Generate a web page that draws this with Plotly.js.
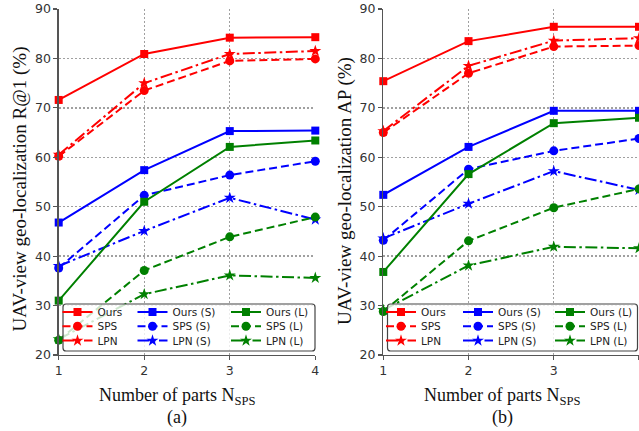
<!DOCTYPE html>
<html>
<head>
<meta charset="utf-8">
<script src="https://cdn.plot.ly/plotly-3.0.1.min.js"></script>
<style>
  html, body { margin: 0; padding: 0; background: #fff; }
  #chart { width: 639px; height: 431px; }
</style>
</head>
<body>
<div id="chart"></div>
<script>
// ---------------- data ----------------
const parts = [1, 2, 3, 4];
const xTickLabels = ['1', '2', '3', '4'];
const seriesNames = ['Ours', 'SPS', 'LPN', 'Ours (S)', 'SPS (S)', 'LPN (S)', 'Ours (L)', 'SPS (L)', 'LPN (L)'];

// (a) UAV-view geo-localization R@1 (%)
const r1_ours  = [71.6, 80.9, 84.2, 84.3];
const r1_sps   = [60.2, 73.5, 79.5, 79.9];
const r1_lpn   = [60.5, 75.0, 80.9, 81.5];
const r1_oursS = [46.8, 57.4, 65.3, 65.4];
const r1_spsS  = [37.6, 52.3, 56.4, 59.2];
const r1_lpnS  = [38.0, 45.1, 51.8, 47.4];
const r1_oursL = [31.0, 51.0, 62.1, 63.4];
const r1_spsL  = [23.0, 37.1, 43.9, 47.9];
const r1_lpnL  = [23.2, 32.3, 36.1, 35.6];

// (b) UAV-view geo-localization AP (%)
const ap_ours  = [75.4, 83.5, 86.4, 86.4];
const ap_sps   = [65.0, 77.0, 82.4, 82.6];
const ap_lpn   = [65.3, 78.5, 83.6, 84.1];
const ap_oursS = [52.4, 62.1, 69.4, 69.4];
const ap_spsS  = [43.2, 57.6, 61.3, 63.8];
const ap_lpnS  = [43.6, 50.6, 57.2, 53.4];
const ap_oursL = [36.8, 56.6, 66.9, 68.0];
const ap_spsL  = [28.8, 43.1, 49.8, 53.6];
const ap_lpnL  = [29.1, 38.1, 41.9, 41.6];

// ---------------- styles ----------------
const W = 639, H = 431;
const colors  = ['#ff0000', '#ff0000', '#ff0000', '#0000ff', '#0000ff', '#0000ff', '#008000', '#008000', '#008000'];
const dashes  = ['solid', '8px,4px', '12px,3.5px,2.5px,3.5px'];
const symbols = ['square', 'circle', 'star'];
const symSize = { square: 8, circle: 9, star: 9 };

const dataA = [r1_ours, r1_sps, r1_lpn, r1_oursS, r1_spsS, r1_lpnS, r1_oursL, r1_spsL, r1_lpnL];
const dataB = [ap_ours, ap_sps, ap_lpn, ap_oursS, ap_spsS, ap_lpnS, ap_oursL, ap_spsL, ap_lpnL];

const px = v => v / W;
const py = v => 1 - v / H;

// legend placement (pixel centres of marker for each entry)
const legCols = { a: [77.5, 152.5, 246], b: [401, 478, 570] };
const legRows = [312, 326.2, 340.6];

const traces = [];
const layout = {
  width: W, height: H,
  margin: { l: 0, r: 0, t: 0, b: 0, autoexpand: false },
  paper_bgcolor: '#fff', plot_bgcolor: '#fff',
  showlegend: true,
  font: { family: 'DejaVu Sans', color: '#222' },
  shapes: [], annotations: []
};

function addChart(data, xa, ya, key, legOffset) {
  data.forEach((vals, i) => {
    const grp = Math.floor(i / 3);   // 0 red,1 blue,2 green
    const kind = i % 3;              // 0 ours,1 sps,2 lpn
    const legIdx = legOffset + i + 1;
    const legId = legIdx === 1 ? 'legend' : 'legend' + legIdx;
    const sym = symbols[kind];
    traces.push({
      type: 'scatter', mode: 'lines+markers',
      x: parts, y: vals, name: seriesNames[i],
      xaxis: xa, yaxis: ya, legend: legId,
      cliponaxis: false,
      line: { color: colors[i], width: 2, dash: dashes[kind] },
      marker: { symbol: sym, size: symSize[sym], color: colors[i], line: { width: 0 } }
    });
    const cx = legCols[key][grp], cy = legRows[kind];
    layout[legId] = {
      x: px(cx - 20), y: py(cy - 14.5), xanchor: 'left', yanchor: 'top',
      xref: 'paper', yref: 'paper',
      bgcolor: 'rgba(0,0,0,0)', borderwidth: 0,
      font: { family: 'DejaVu Sans', size: 10.5, color: '#222' },
      itemclick: false
    };
  });
}

addChart(dataA, 'x', 'y', 'a', 0);
addChart(dataB, 'x2', 'y2', 'b', 9);

const yDom = [76 / H, 422 / H];
function axisX(domain, anchor) {
  return {
    domain, anchor, range: [1, 4], tickmode: 'array', tickvals: parts, ticktext: xTickLabels,
    showgrid: true, gridcolor: '#a0a0a0', gridwidth: 1.3, griddash: '2px,2px',
    zeroline: false, showline: true, linecolor: '#555', linewidth: 1.3,
    ticks: 'outside', ticklen: 4, tickcolor: '#555', tickwidth: 1.2,
    tickfont: { family: 'DejaVu Sans', size: 12.5, color: '#333' }, fixedrange: true
  };
}
function axisY(anchor) {
  return {
    domain: yDom, anchor, range: [20, 90], tickmode: 'linear', tick0: 20, dtick: 10,
    showgrid: true, gridcolor: '#a0a0a0', gridwidth: 1.3, griddash: '2px,2px',
    zeroline: false, showline: true, linecolor: '#555', linewidth: 1.3,
    ticks: 'outside', ticklen: 4, tickcolor: '#555', tickwidth: 1.2,
    tickfont: { family: 'DejaVu Sans', size: 12.5, color: '#333' }, fixedrange: true
  };
}
layout.xaxis  = axisX([58.7 / W, 315.3 / W], 'y');
layout.yaxis  = axisY('x');
layout.xaxis2 = axisX([383.3 / W, 1], 'y2');
layout.yaxis2 = axisY('x2');

// legend frames (semi-transparent like the original)
function roundRect(x0, y0, x1, y1, r) {
  const P = (a, b) => px(a).toFixed(5) + ',' + py(b).toFixed(5);
  return 'M' + P(x0 + r, y0) + ' L' + P(x1 - r, y0) + ' Q' + P(x1, y0) + ' ' + P(x1, y0 + r) +
         ' L' + P(x1, y1 - r) + ' Q' + P(x1, y1) + ' ' + P(x1 - r, y1) +
         ' L' + P(x0 + r, y1) + ' Q' + P(x0, y1) + ' ' + P(x0, y1 - r) +
         ' L' + P(x0, y0 + r) + ' Q' + P(x0, y0) + ' ' + P(x0 + r, y0) + ' Z';
}
[[63, 304, 315, 351], [387.5, 304, 637.5, 351]].forEach(b => {
  layout.shapes.push({
    type: 'path', xref: 'paper', yref: 'paper', layer: 'above',
    path: roundRect(b[0], b[1], b[2], b[3], 3),
    fillcolor: 'rgba(255,255,255,0.8)', line: { color: '#444', width: 1.2 }
  });
});

// titles
const serif = 'Liberation Serif, Times New Roman, serif';
function ann(text, x, y, size, angle) {
  layout.annotations.push({
    text, xref: 'paper', yref: 'paper', x: px(x), y: py(y),
    xanchor: 'center', yanchor: 'middle', showarrow: false, textangle: angle || 0,
    font: { family: serif, size, color: '#111' }
  });
}
ann('UAV-view geo-localization R@1 (%)', 19.5, 189, 19, -90);
ann('UAV-view geo-localization AP (%)', 345, 191, 19, -90);
ann('Number of parts N<sub>SPS</sub>', 177, 396, 18);
ann('Number of parts N<sub>SPS</sub>', 502, 396, 18);
ann('(a)', 177, 417.5, 18);
ann('(b)', 502, 417.5, 18);

Plotly.newPlot('chart', traces, layout, { staticPlot: true, displayModeBar: false });
</script>
</body>
</html>
